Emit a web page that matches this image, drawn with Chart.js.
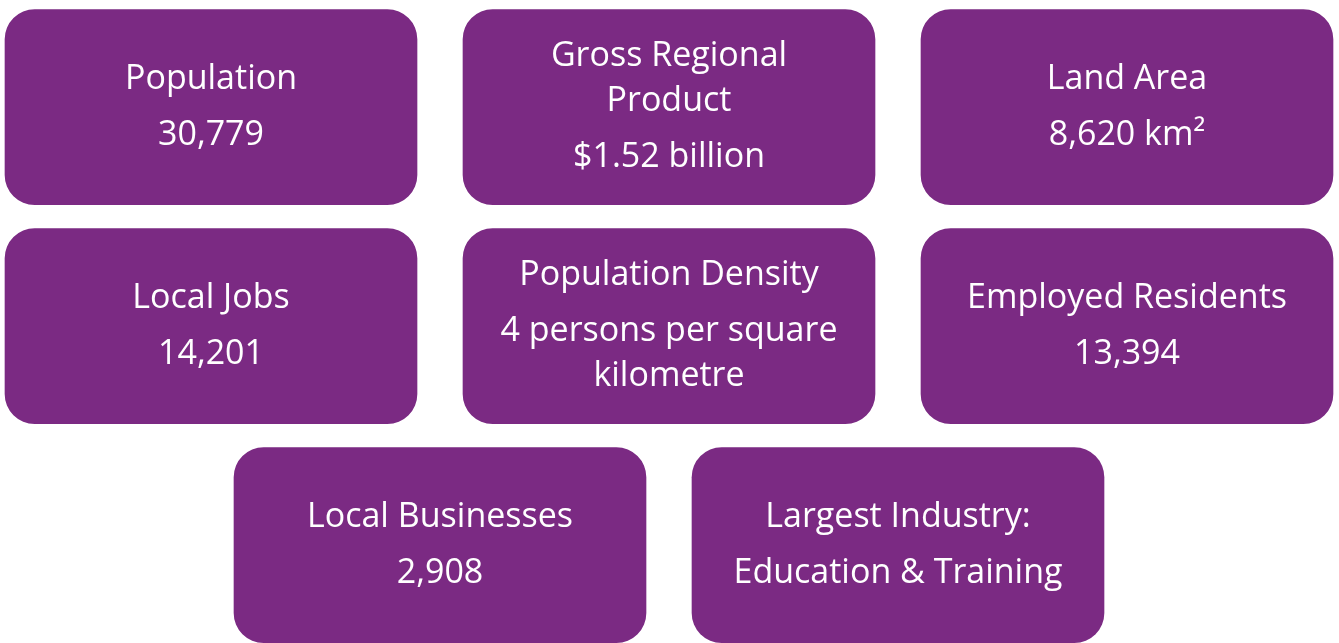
<!DOCTYPE html>
<html>
<head>
<meta charset="utf-8">
<script src="https://cdn.jsdelivr.net/npm/chart.js@4/dist/chart.umd.min.js"></script>
<style>
  html, body { margin: 0; padding: 0; background: #fff; }
  #wrap { width: 1339px; height: 643px; position: relative; }
</style>
</head>
<body>
<div id="wrap"><canvas id="myChart"></canvas></div>
<script>
// tiles, in reading order
const titles = [
    ['Population'],
    ['Gross Regional', 'Product'],
    ['Land Area'],
    ['Local Jobs'],
    ['Population Density'],
    ['Employed Residents'],
    ['Local Businesses'],
    ['Largest Industry:'],
];
const values = [
    ['30,779'],
    ['$1.52 billion'],
    ['8,620 km\u00B2'],
    ['14,201'],
    ['4 persons per square', 'kilometre'],
    ['13,394'],
    ['2,908'],
    ['Education & Training'],
];
// grid slot of each tile (row, column); last row is shifted half a column
const tileRow = [1, 1, 1, 2, 2, 2, 3, 3];
const tileCol = [0, 1, 2, 0, 1, 2, 0.5, 1.5];

const purple = '#7B2A83';
const pitch = 458 / 412;          // column pitch in tile widths
const xMin = -5 / 412;
const xMax = xMin + 1339 / 412;

const tiles = tileCol.map((c, i) => ({ x: [c * pitch, c * pitch + 1], y: tileRow[i] }));

const tileText = {
    id: 'tileText',
    afterDatasetsDraw(chart) {
        const ctx = chart.ctx;
        const meta = chart.getDatasetMeta(0);
        ctx.save();
        ctx.fillStyle = '#ffffff';
        ctx.font = '34px "Open Sans"';
        ctx.textAlign = 'center';
        ctx.textBaseline = 'middle';
        const lineH = 45, groupGap = 11;
        meta.data.forEach((bar, i) => {
            const cx = (bar.x + bar.base) / 2;
            const lines = titles[i].length + values[i].length;
            const blockH = (lines - 1) * lineH + groupGap;
            let y = bar.y - blockH / 2;
            titles[i].forEach(t => { ctx.fillText(t, cx, y); y += lineH; });
            y += groupGap;
            values[i].forEach(t => { ctx.fillText(t, cx, y); y += lineH; });
        });
        ctx.restore();
    }
};

new Chart(document.getElementById('myChart'), {
    type: 'bar',
    data: {
        datasets: [{
            data: tiles,
            backgroundColor: purple,
            borderSkipped: false,
            borderRadius: 30,
            barThickness: 195,
        }]
    },
    options: {
        indexAxis: 'y',
        responsive: true,
        maintainAspectRatio: false,
        animation: false,
        layout: { padding: 0 },
        plugins: { legend: { display: false }, tooltip: { enabled: false } },
        scales: {
            x: { type: 'linear', min: xMin, max: xMax, offset: false, display: false },
            y: { type: 'linear', min: 0.511, max: 3.447, reverse: true, offset: false, display: false },
        },
    },
    plugins: [tileText]
});
</script>
</body>
</html>
